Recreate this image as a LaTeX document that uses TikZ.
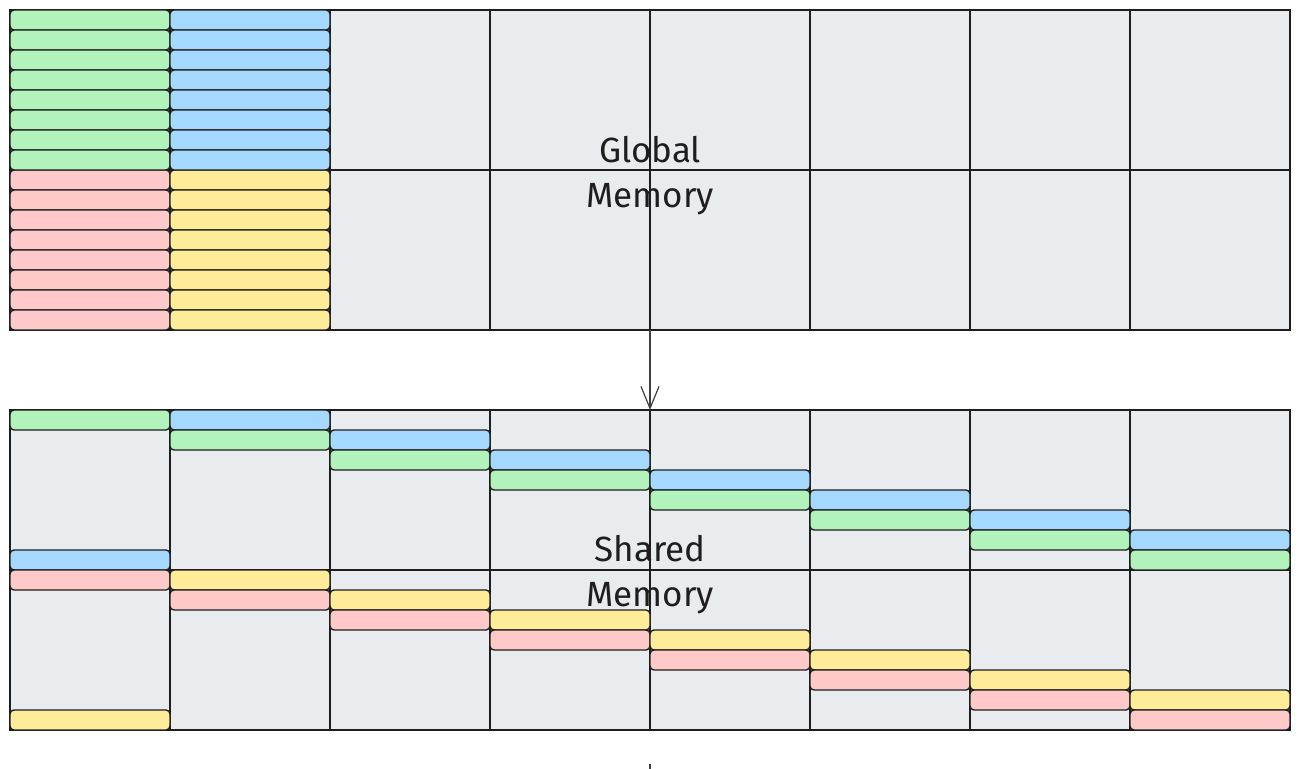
\documentclass[tikz,border=0pt]{standalone}
\usepackage{fontspec}
\setmainfont{Fira Sans}
\usetikzlibrary{arrows.meta}
\definecolor{cellgray}{HTML}{E9ECEF}
\definecolor{sgreen}{HTML}{B2F2BB}
\definecolor{sblue}{HTML}{A5D8FF}
\definecolor{sred}{HTML}{FFC9C9}
\definecolor{syellow}{HTML}{FFEC99}
\definecolor{ink}{HTML}{1E1E1E}
\tikzset{
  cellbox/.style={draw=ink, fill=cellgray, line width=1.4pt, minimum width=160pt, minimum height=160pt, inner sep=0pt, outer sep=0pt},
  stripbox/.style={draw=ink, line width=1.4pt, rounded corners=4pt, minimum width=160pt, minimum height=20pt, inner sep=0pt, outer sep=0pt},
  memlabel/.style={font=\fontsize{35pt}{45pt}\selectfont, text=ink, align=center, inner sep=0pt},
  flow/.style={draw=ink!85, line width=1.2pt, -{Straight Barb[length=22pt,width=18pt,line width=1.2pt]}}
}
\begin{document}
\begin{tikzpicture}[x=1pt,y=-1pt]
\useasboundingbox (0,0) rectangle (1300,768);
% grid cells
\foreach \i in {0,...,7}{
  \foreach \j in {0,1}{
    \node[cellbox] (g\i\j) at ({90+160*\i},{90+160*\j}) {};
    \node[cellbox] (s\i\j) at ({90+160*\i},{490+160*\j}) {};
  }
}
% global memory strips
\foreach \r in {0,...,7}{
  \node[stripbox, fill=sgreen]  (gg\r) at (90,{20+20*\r}) {};
  \node[stripbox, fill=sblue]   (gb\r) at (250,{20+20*\r}) {};
  \node[stripbox, fill=sred]    (gr\r) at (90,{180+20*\r}) {};
  \node[stripbox, fill=syellow] (gy\r) at (250,{180+20*\r}) {};
}
% shared memory strips, column 0
\node[stripbox, fill=sgreen]  (sg0) at (90,420) {};
\node[stripbox, fill=sblue]   (sb0) at (90,560) {};
\node[stripbox, fill=sred]    (sr0) at (90,580) {};
\node[stripbox, fill=syellow] (sy0) at (90,720) {};
% shared memory strips, columns 1..7
\foreach \k in {1,...,7}{
  \node[stripbox, fill=sblue]   (sb\k) at ({90+160*\k},{420+20*(\k-1)}) {};
  \node[stripbox, fill=sgreen]  (sg\k) at ({90+160*\k},{440+20*(\k-1)}) {};
  \node[stripbox, fill=syellow] (sy\k) at ({90+160*\k},{580+20*(\k-1)}) {};
  \node[stripbox, fill=sred]    (sr\k) at ({90+160*\k},{600+20*(\k-1)}) {};
}
% labels
\node[memlabel] (glabel) at (650,176) {Global\\Memory};
\node[memlabel] (slabel) at (650,575) {Shared\\Memory};
% arrow
\draw[flow] (g31.south east) -- (s30.north east);
% cut-off connector at the bottom
\coordinate (tailtop) at (650,764);
\coordinate (tailend) at (650,770);
\draw[draw=ink!85, line width=1.2pt] (tailtop) -- (tailend);
\end{tikzpicture}
\end{document}
